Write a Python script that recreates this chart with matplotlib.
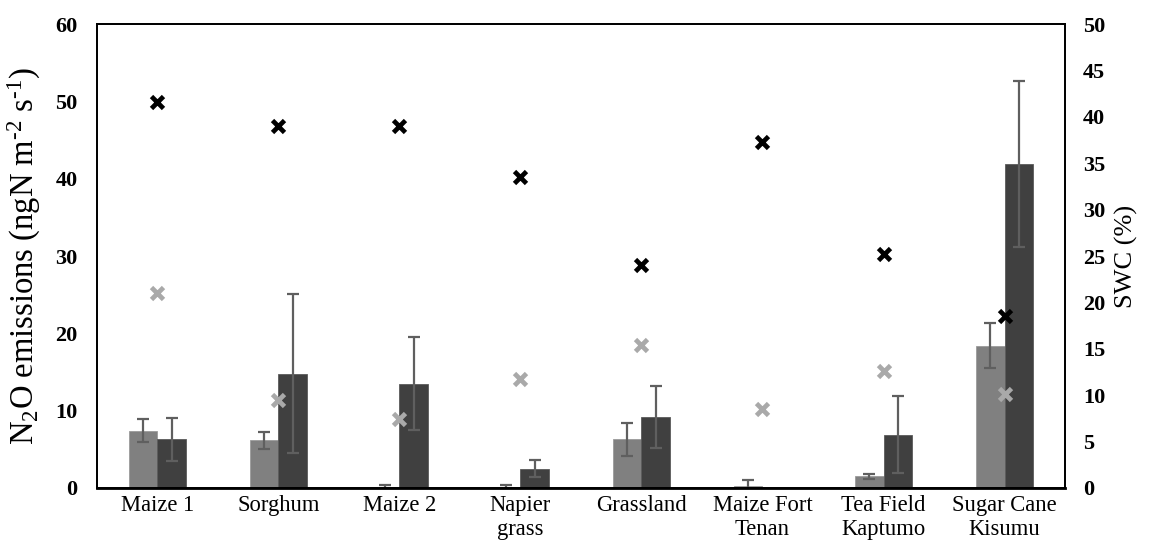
import matplotlib
matplotlib.use("Agg")
import matplotlib.pyplot as plt
import numpy as np

categories = ["Maize 1", "Sorghum", "Maize 2", "Napier\ngrass", "Grassland",
              "Maize Fort\nTenan", "Tea Field\nKaptumo", "Sugar Cane\nKisumu"]
n2o_light = [7.4, 6.2, 0.15, 0.15, 6.3, 0.3, 1.5, 18.4]
n2o_light_err = [1.5, 1.1, 0.3, 0.3, 2.1, 0.7, 0.3, 2.9]
n2o_dark = [6.3, 14.8, 13.5, 2.5, 9.2, 0.0, 6.9, 41.9]
n2o_dark_err = [2.8, 10.3, 6.0, 1.1, 4.0, 0.0, 5.0, 10.7]
swc_black = [41.6, 39.0, 39.0, 33.5, 24.0, 37.3, 25.2, 18.5]
swc_gray = [21.0, 9.5, 7.4, 11.7, 15.4, 8.5, 12.6, 10.1]

plt.rcParams['font.family'] = ['Liberation Serif', 'DejaVu Serif']
plt.rcParams['mathtext.fontset'] = 'custom'
plt.rcParams['mathtext.rm'] = 'Liberation Serif'
plt.rcParams['mathtext.it'] = 'Liberation Serif:italic'
plt.rcParams['mathtext.bf'] = 'Liberation Serif:bold'

fig = plt.figure(figsize=(11.49, 5.60), dpi=100)
ax = fig.add_axes([0.0844, 0.1286, 0.8425, 0.8285])
x = np.arange(len(categories))
w = 0.236

err_kw = dict(ecolor='#5f5f5f', elinewidth=1.6, capsize=4.5, capthick=1.6)
ax.bar(x - w / 2, n2o_light, w, color='#808080', edgecolor='#9a9a9a', linewidth=0.6,
       yerr=n2o_light_err, error_kw=err_kw, zorder=2)
dark_err = [e if e > 0 else np.nan for e in n2o_dark_err]
ax.bar(x + w / 2, n2o_dark, w, color='#404040', edgecolor='#5a5a5a', linewidth=0.6,
       yerr=dark_err, error_kw=err_kw, zorder=2)

ax.set_xlim(-0.5, len(categories) - 0.5)
ax.set_ylim(0, 60)
ax.set_yticks(np.arange(0, 61, 10))
ax.set_xticks(x)
ax.set_xticklabels(categories, fontsize=16.3, linespacing=1.2)
ax.tick_params(axis='both', length=0)
ax.tick_params(axis='x', pad=5)
ax.tick_params(axis='y', pad=14)
for lab in ax.get_yticklabels():
    lab.set_fontweight('bold')
    lab.set_fontsize(16)
ax.set_ylabel("N$_2$O emissions (ngN m$^{\\text{-2}}$ s$^{\\text{-1}}$)", fontsize=23.5)
ax.yaxis.set_label_coords(-0.056, 0.5)

ax2 = ax.twinx()
ax2.plot(x, swc_black, linestyle='none', marker='x', markersize=9, mew=3.4,
         color='black')
ax2.plot(x, swc_gray, linestyle='none', marker='x', markersize=9, mew=3.4,
         color='#a9a9a9')
ax2.set_ylim(0, 50)
ax2.set_yticks(np.arange(0, 51, 5))
ax2.tick_params(axis='y', length=0, pad=13)
for lab in ax2.get_yticklabels():
    lab.set_fontweight('bold')
    lab.set_fontsize(16)
ax2.set_ylabel("SWC (%)", fontsize=19, labelpad=7)

for a in (ax, ax2):
    for s in a.spines.values():
        s.set_linewidth(1.3)
        s.set_color('black')
ax.spines['bottom'].set_linewidth(2)

fig.savefig("out.png", dpi=100)
